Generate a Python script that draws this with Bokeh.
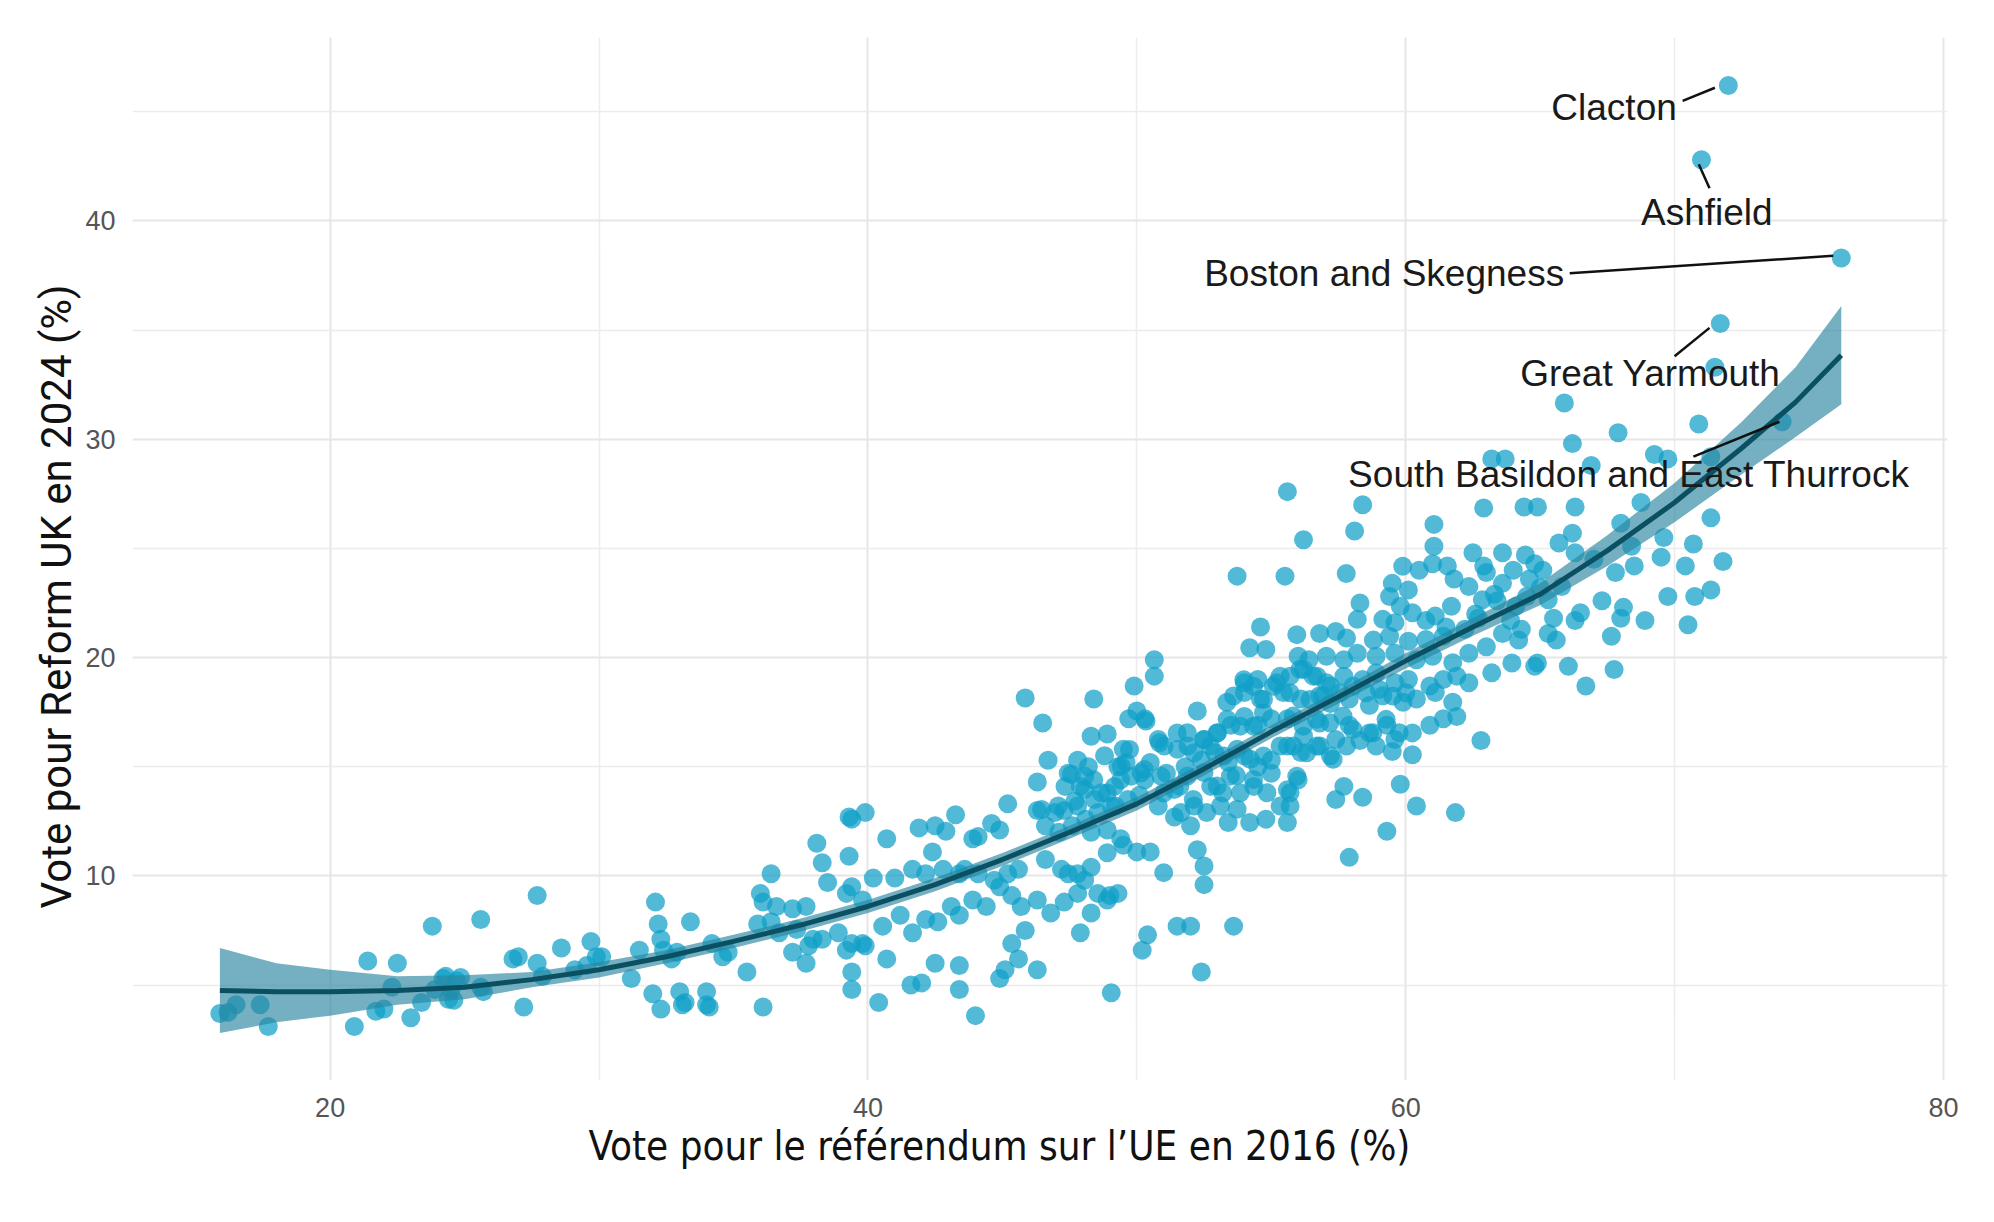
from bokeh.plotting import figure
from bokeh.models import Range1d, FixedTicker, ColumnDataSource, Segment, Text, Title
from bokeh.embed import file_html
from bokeh.resources import INLINE

# ---- data: Leave vote 2016 (%) vs Reform UK vote 2024 (%) ----
leave_2016 = [
    15.9, 16.5, 17.4, 17.7, 20.9, 21.4, 21.7, 22.3, 22.5, 23.0, 23.4, 23.8, 23.9, 24.2, 24.5, 24.6, 24.7,
    25.6, 25.6, 26.8, 27.2, 27.7, 27.7, 27.9, 28.6, 29.1, 29.7, 29.9, 31.2, 31.5, 32.1, 32.2, 32.3, 32.0,
    32.3, 32.4, 32.7, 33.0, 33.1, 33.4, 34.0, 34.0, 34.2, 34.6,
    22.0, 24.3, 24.85, 24.4, 25.7, 27.0, 29.55, 30.1, 32.9, 33.2, 34.1, 16.2,
    45.85, 48.4, 46.5, 48.3, 48.9, 49.5, 46.7, 47.8, 48.2, 48.8, 49.3, 46.3, 47.45, 47.9, 48.4, 48.9, 49.4,
    39.4, 39.9, 39.3, 45.2, 43.26, 41.9, 42.5, 42.9, 44.6, 44.9, 44.1, 43.9,
    46.3, 46.95, 47.3, 47.8, 48.1, 48.55, 49.2, 46.6, 47.1, 47.6, 48.3, 48.9, 49.4,
    38.1, 40.7, 39.3, 38.3, 38.5, 36.4, 40.2, 41.0, 41.66, 42.4, 42.15, 42.8, 43.4, 43.6,
    44.1, 44.7, 45.2, 45.6, 46.6, 47.2, 47.8, 48.3, 48.9, 49.5, 47.45, 48.06, 48.55, 49.0,
    36.0, 36.1, 36.6, 37.2, 37.7, 39.4, 39.8, 39.2,
    35.9, 36.4, 36.7, 37.35, 37.8, 38.3, 38.9, 39.4, 39.9,
    40.55, 41.2, 41.66, 42.15, 42.6, 43.1, 43.4, 43.9, 44.4,
    44.9, 45.35, 45.7, 46.3, 46.8, 47.3, 47.8, 48.3, 48.9, 49.3,
    34.8, 35.5, 36.1, 37.2, 37.7, 37.96, 39.4, 39.4, 39.2, 39.8,
    40.7, 40.4, 41.6, 42.0, 42.5, 43.4, 43.4, 44.0,
    44.9, 45.1, 45.6, 46.3, 45.85, 45.35, 47.9, 49.05,
    49.6, 49.7, 49.9, 50.0, 50.1, 50.2, 50.4, 51.5, 52.0, 52.4, 53.6, 52.5,
    55.6, 56.2, 58.1, 58.4,
    53.73, 55.51, 57.79, 59.89, 60.5, 61.0, 61.55, 61.8, 59.5, 60.1, 59.4, 59.8, 58.3, 58.2,
    59.15, 59.6, 60.25, 60.75, 61.1, 61.7, 54.6, 55.95, 56.8, 57.4, 57.8,
    58.8, 59.4, 60.1, 60.75, 61.4, 54.2, 54.8, 50.65, 50.65,
    56.0, 56.4, 57.05, 57.7, 58.2, 58.9, 59.6, 60.4, 61.0, 61.75,
    54.0, 54.5, 55.2, 55.7, 56.2, 56.7, 57.2, 57.7, 58.4, 58.9, 59.6, 60.1, 60.9, 61.4, 61.9,
    52.25, 53.35, 54.0, 54.6, 55.45, 56.1, 56.8, 57.2, 57.9, 58.65, 59.15, 59.9, 60.4, 61.1, 61.75,
    50.3, 50.8, 51.5, 51.9, 52.5, 53.0, 53.5, 54.0, 54.5, 55.0,
    55.6, 56.2, 56.8, 57.4, 57.9, 58.65, 59.3, 59.6, 60.25, 60.9, 61.4, 61.9,
    50.5, 51.1, 51.8, 52.4, 52.9, 53.4, 54.0, 54.5, 55.0,
    55.6, 56.1, 56.7, 57.2, 57.8, 58.3, 58.9, 59.5, 60.25,
    50.3, 51.0, 51.6, 52.1, 52.75, 53.2, 53.7, 54.35, 55.0,
    55.6, 56.0, 57.7, 57.4, 58.4, 59.8, 60.4, 61.85,
    50.8, 51.4, 52.0, 52.6, 53.4, 54.2, 54.8, 55.6, 55.7,
    50.5, 52.25, 52.5, 51.0, 59.3, 57.9,
    53.98, 54.34, 53.6, 54.71, 55.33, 55.08, 55.7, 56.07, 56.56, 57.05, 56.44, 56.93, 57.55, 58.04,
    58.53, 59.02, 59.52, 60.01,
    51.88, 52.5, 52.99, 53.36, 53.85, 54.34, 54.71, 55.82, 56.19, 56.68, 57.18, 57.67, 58.04, 58.78,
    59.27, 59.76,
    51.02, 51.51, 52.13, 52.74, 53.24, 53.73, 54.22, 54.71, 55.33, 55.82, 56.32, 56.81, 57.3,
    50.9, 51.39, 51.88, 52.5, 52.99, 53.48, 53.85, 54.34, 54.84, 55.95, 55.7, 55.33, 53.11, 53.73,
    52.13, 51.64,
    50.0, 50.34, 49.73, 50.84, 49.42, 50.16, 47.57, 48.06, 47.33, 48.06, 48.68, 49.17, 49.79, 50.28,
    46.46, 47.08, 47.7, 48.43, 49.05, 49.67,
    65.9, 67.9, 70.9, 66.2, 63.2, 63.7, 66.9, 69.25, 69.75, 71.35, 62.9, 64.4, 64.9, 66.3, 68.75, 68.0,
    71.35, 62.5, 63.0, 63.6, 63.6, 64.45, 64.8, 65.1, 65.7, 66.2, 66.3, 67.8, 68.5, 68.4, 69.6, 70.7,
    71.8, 69.5, 70.4, 69.75, 70.75, 71.35, 68.0, 68.9, 70.5, 67.65, 67.75, 66.05, 66.7, 66.5, 66.3,
    65.6, 64.9, 65.3, 65.8, 64.6, 64.1, 62.85, 62.35, 63.6, 63.0, 62.35, 62.35, 63.95, 64.8, 65.3,
    62.8, 61.05, 61.05,
    62.6, 63.3, 63.9, 64.5, 62.2, 63.2, 64.2, 65.0, 62.9, 61.5, 67.3, 68.1, 67.0, 65.5, 64.3, 63.4,
    62.7, 64.0,
    71.5, 71.7, 71.0, 72.0, 76.2, 74.0,
]
reform_2024 = [
    3.7, 4.1, 4.1, 3.1, 3.1, 6.1, 3.8, 4.9, 6.0, 3.5, 4.2, 7.7, 4.8, 5.3, 4.8, 4.3, 5.2,
    8.0, 4.9, 6.2, 4.0, 9.1, 6.0, 5.4, 6.7, 5.7, 7.0, 6.3, 5.3, 6.6, 8.8, 7.8, 7.1, 4.6,
    3.9, 6.6, 6.2, 4.7, 4.1, 7.9, 4.7, 4.1, 6.9, 6.3,
    3.9, 5.4, 5.35, 4.35, 4.7, 6.3, 5.9, 6.3, 6.5, 4.2, 4.0, 3.75,
    18.15, 18.1, 17.0, 16.4, 16.5, 15.8, 15.3, 15.3, 15.0, 15.5, 15.0, 14.3, 14.7, 14.1, 14.4, 13.8, 14.4,
    12.6, 12.9, 12.7, 13.3, 12.8, 12.2, 12.3, 12.05, 12.4, 12.1, 11.8, 11.7,
    13.0, 12.9, 13.0, 13.2, 12.6, 12.9, 13.2, 12.3, 12.0, 12.3, 12.0, 12.1, 11.7,
    11.5, 11.7, 10.9, 10.6, 9.7, 10.1, 9.9, 9.9, 10.3, 11.1, 10.1, 10.3, 10.1, 10.3,
    10.1, 9.8, 10.1, 10.3, 10.75, 10.3, 10.1, 10.4, 11.06, 11.4, 10.1, 9.8, 9.2, 9.1,
    9.2, 8.8, 8.6, 8.5, 8.6, 9.5, 8.9, 9.2,
    7.8, 7.9, 7.4, 7.55, 6.8, 7.1, 7.4, 6.9, 6.8,
    7.7, 8.2, 7.4, 8.0, 7.9, 8.6, 8.2, 8.9, 8.6,
    9.5, 9.1, 8.6, 8.9, 8.3, 8.8, 9.2, 8.3, 8.9, 9.2,
    6.5, 5.6, 4.0, 6.5, 6.0, 7.1, 5.6, 4.8, 6.6, 6.9,
    6.2, 4.2, 5.0, 5.1, 6.0, 5.9, 4.8, 3.6,
    5.3, 5.7, 6.2, 5.7, 7.5, 6.9, 7.4, 4.65,
    15.2, 17.2, 18.7, 11.1, 13.7, 6.6, 7.3, 7.7, 7.7, 5.6, 7.7, 9.6,
    27.6, 25.4, 25.8, 27.0,
    23.73, 23.73, 23.85, 24.18, 24.0, 24.3, 24.2, 23.6, 23.4, 23.1, 22.8, 22.35, 22.5, 21.75,
    21.75, 21.6, 22.05, 21.7, 21.9, 22.35, 21.4, 21.05, 21.1, 21.2, 20.9,
    20.8, 20.98, 20.75, 20.83, 20.98, 20.45, 20.37, 19.9, 19.15,
    20.06, 19.9, 20.06, 19.9, 20.2, 20.06, 20.2, 19.9, 20.06, 19.76,
    18.85, 19.0, 18.85, 19.15, 19.45, 19.15, 18.7, 19.15, 19.0, 19.3, 18.85, 19.0, 18.7, 19.0, 19.15,
    17.55, 17.95, 18.4, 18.1, 18.4, 18.1, 18.25, 17.9, 18.1, 17.8, 18.25, 17.95, 18.1, 18.4, 17.95,
    17.2, 16.25, 16.55, 15.95, 16.25, 16.55, 16.9, 17.3, 16.9, 17.2,
    17.2, 16.4, 17.0, 16.25, 16.9, 16.55, 16.9, 16.25, 16.55, 16.9, 17.2, 17.3,
    15.2, 14.7, 15.0, 15.3, 15.65, 15.2, 15.5, 15.0, 15.3,
    15.95, 15.65, 15.95, 15.5, 15.95, 16.2, 15.95, 15.7, 15.55,
    14.4, 13.8, 14.1, 13.5, 14.1, 13.8, 14.6, 14.1, 14.7,
    13.95, 14.4, 14.1, 13.5, 13.6, 14.2, 13.2, 12.9,
    13.2, 12.7, 12.3, 12.9, 12.45, 12.45, 12.6, 12.45, 13.2,
    11.1, 11.2, 10.45, 10.15, 12.05, 10.85,
    18.99, 18.69, 18.24, 18.08, 19.15, 18.69, 18.39, 19.46, 19.15, 18.85, 18.08, 18.24, 18.39, 18.69,
    18.39, 18.54, 18.24, 18.39,
    16.56, 16.25, 16.56, 17.17, 16.86, 16.86, 17.47, 17.32, 16.86, 17.17, 17.01, 17.32, 16.71, 16.56,
    17.17, 16.56,
    15.95, 15.8, 15.64, 15.95, 15.49, 15.8, 15.34, 15.49, 15.95, 15.95, 15.64, 15.95, 15.34,
    14.57, 13.96, 14.57, 14.73, 14.12, 14.57, 13.81, 14.42, 13.81, 14.57, 13.81, 13.2, 13.2, 13.05,
    13.2, 12.9,
    17.55, 17.09, 15.79, 16.1, 15.03, 14.72, 14.65, 14.57, 14.1, 13.96, 13.81, 14.1, 14.57, 14.87,
    13.04, 13.2, 13.43, 13.5, 13.2, 13.5,
    31.66, 30.3, 30.7, 29.8, 29.1, 29.1, 28.8, 29.3, 29.1, 29.2, 26.85, 26.9, 26.9, 26.9, 27.1, 26.15,
    26.4, 24.8, 23.9, 24.8, 23.4, 24.7, 24.3, 24.0, 25.25, 25.7, 24.8, 23.9, 24.2, 25.1, 25.5, 25.2,
    24.4, 24.6, 24.2, 22.8, 22.8, 23.1, 21.8, 21.7, 21.5, 20.98, 19.45, 19.6, 18.7, 22.05, 21.7,
    20.8, 19.75, 22.65, 23.25, 23.6, 22.35, 22.65, 23.25, 21.1, 20.5, 20.2, 18.85, 19.75, 19.6, 21.1,
    16.2, 26.1, 25.1,
    22.0, 22.9, 21.7, 22.8, 21.3, 19.3, 20.8, 23.2, 24.2, 21.4, 22.6, 22.3, 24.5, 21.8, 21.3, 22.6,
    21.8, 24.0,
    33.3, 35.3, 42.8, 46.2, 38.3, 30.8,
]

# ---- smoothed fit ----
fit_x = [15.9, 18, 20, 22.5, 25, 27.5, 30, 32.5, 35, 37.5, 40, 42.5, 45, 47.5, 50,
         52.5, 55, 57.5, 60, 62.5, 65, 67.5, 70, 72.5, 74.5, 76.2]
fit_y = [4.75, 4.7, 4.7, 4.75, 4.9, 5.25, 5.7, 6.3, 7.0, 7.75, 8.6, 9.6, 10.75, 12.0, 13.3,
         14.9, 16.6, 18.2, 19.85, 21.4, 22.9, 24.9, 27.1, 29.6, 31.7, 33.85]
fit_lo = [2.8, 3.3, 3.6, 4.1, 4.35, 4.9, 5.35, 6.0, 6.7, 7.45, 8.3, 9.3, 10.45, 11.7, 13.0,
          14.6, 16.3, 17.9, 19.5, 21.0, 22.4, 24.2, 26.2, 28.4, 30.1, 31.6]
fit_hi = [6.7, 6.0, 5.7, 5.4, 5.45, 5.6, 6.05, 6.6, 7.3, 8.05, 8.9, 9.9, 11.05, 12.3, 13.6,
          15.2, 16.9, 18.5, 20.2, 21.8, 23.4, 25.6, 28.0, 30.8, 33.3, 36.1]

# ---- labelled constituencies ----
lab_names = ["Clacton", "Ashfield", "Boston and Skegness", "Great Yarmouth",
             "South Basildon and East Thurrock"]
lab_x = [67.75, 71.2, 59.2, 69.1, 68.3]
lab_y = [45.2, 40.4, 37.6, 33.0, 28.4]
seg_x0 = [70.3, 71.3, 66.1, 70.0, 70.7]
seg_y0 = [45.5, 41.5, 37.6, 33.8, 29.2]
seg_x1 = [71.5, 70.9, 75.9, 71.3, 73.9]
seg_y1 = [46.1, 42.6, 38.4, 35.1, 30.8]

x_ticks = [20, 40, 60, 80]
x_minor = [30, 50, 70]
y_ticks = [10, 20, 30, 40]
y_minor = [5, 15, 25, 35, 45]

x_title = "Vote pour le référendum sur l’UE en 2016 (%)"
y_title = "Vote pour Reform UK en 2024 (%)"

p = figure(width=1978, height=1206, output_backend="svg", toolbar_location=None,
           x_range=Range1d(12.65, 80.15), y_range=Range1d(0.63, 48.4),
           min_border_left=132, min_border_right=31, min_border_top=37, min_border_bottom=126)
p.outline_line_color = None
p.background_fill_color = "white"
p.border_fill_color = "white"

p.xaxis.ticker = FixedTicker(ticks=x_ticks, minor_ticks=x_minor)
p.yaxis.ticker = FixedTicker(ticks=y_ticks, minor_ticks=y_minor)
for g in (p.xgrid, p.ygrid):
    g.grid_line_color = "#e6e6e6"
    g.grid_line_width = 2
    g.minor_grid_line_color = "#ececec"
    g.minor_grid_line_width = 1.5

for ax in (p.xaxis, p.yaxis):
    ax.axis_line_color = None
    ax.major_tick_line_color = None
    ax.minor_tick_line_color = None
    ax.major_label_text_font = "Liberation Sans"
    ax.major_label_text_font_size = "27px"
    ax.major_label_text_color = "#555555"

p.xaxis.major_label_standoff = 11
p.yaxis.major_label_standoff = 11

p.add_layout(Title(text=y_title, align="left", offset=172, standoff=4, vertical_align="bottom",
                   text_font="Roboto", text_font_size="42px", text_font_style="normal",
                   text_color="#111111"), "left")
p.add_layout(Title(text=x_title, align="left", offset=456, standoff=7, vertical_align="top",
                   text_font="'Liberation Sans Narrow', 'DejaVu Sans Condensed', sans-serif",
                   text_font_size="40px", text_font_style="normal", text_color="#111111"), "below")

p.scatter(leave_2016, reform_2024, size=19, fill_color="#0fa0c8", fill_alpha=0.72, line_color=None)

p.varea(x=fit_x, y1=fit_lo, y2=fit_hi, fill_color="#2a86a0", fill_alpha=0.65)
p.line(fit_x, fit_y, line_color="#0a5062", line_width=5)

seg_src = ColumnDataSource(dict(x0=seg_x0, y0=seg_y0, x1=seg_x1, y1=seg_y1))
p.add_glyph(seg_src, Segment(x0="x0", y0="y0", x1="x1", y1="y1", line_color="#111111", line_width=2.5))

lab_src = ColumnDataSource(dict(x=lab_x, y=lab_y, t=lab_names))
p.add_glyph(lab_src, Text(x="x", y="y", text="t", text_align="center", text_baseline="middle",
                          text_font={"value": "Liberation Sans"}, text_font_size={"value": "37px"},
                          text_color="#1a1a1a"))

open("out.html", "w").write(file_html(p, INLINE))
